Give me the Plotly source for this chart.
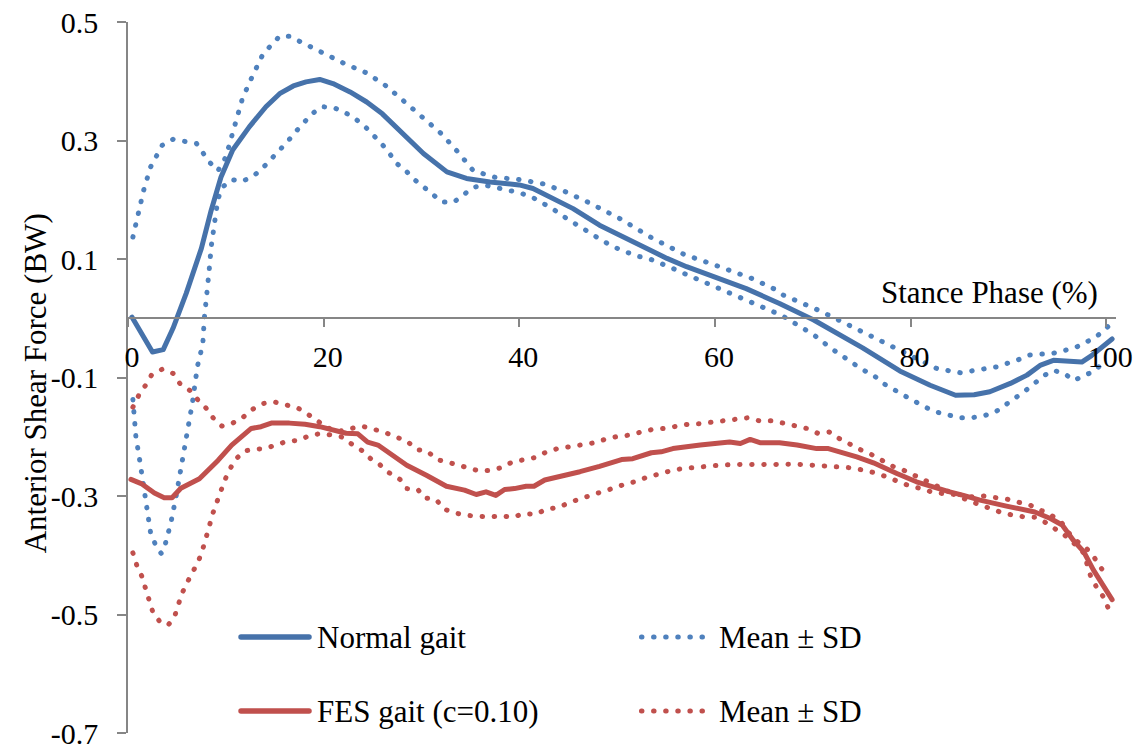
import plotly.graph_objects as go

# Normal gait: mean and mean ± SD (stance phase %, shear force in BW)
normal_x = [0.4, 2.5, 3.6, 4.6, 5.95, 7.5, 8.5, 9.5, 10.7, 12.4, 14.1, 15.5, 16.9, 18.2, 19.6,
            20.95, 22.7, 24.4, 26.0, 27.8, 30.2, 32.6, 34.6, 37.0, 40.0, 41.4, 43.5, 45.5, 48.2,
            51.6, 55.1, 57.1, 60.5, 63.2, 66.6, 70.1, 75.1, 78.9, 82.0, 84.6, 86.5, 88.1, 90.2,
            91.9, 93.3, 94.6, 97.5, 98.5, 100.6]
normal_y = [0.002, -0.057, -0.053, -0.017, 0.042, 0.118, 0.182, 0.238, 0.284, 0.323, 0.357, 0.379,
            0.392, 0.399, 0.403, 0.396, 0.382, 0.365, 0.345, 0.316, 0.278, 0.247, 0.236, 0.230,
            0.225, 0.219, 0.202, 0.185, 0.157, 0.129, 0.101, 0.087, 0.067, 0.050, 0.025, -0.003,
            -0.050, -0.089, -0.113, -0.130, -0.129, -0.124, -0.110, -0.096, -0.079, -0.071, -0.074,
            -0.063, -0.035]

normal_hi_x = [0.5, 1.0, 1.6, 2.3, 3.5, 4.6, 5.8, 7.0, 8.3, 9.2, 10.0, 10.7, 11.7, 12.7, 13.8, 15.5,
               16.5, 17.7, 19.9, 22.1, 24.4, 26.4, 28.3, 30.2, 32.0, 33.7, 35.3, 37.5, 40.0, 42.4,
               44.8, 47.0, 50.3, 53.5, 56.8, 60.3, 63.8, 66.0, 67.0, 70.6, 73.8, 77.2, 82.7, 85.1,
               87.4, 88.8, 91.0, 92.2, 94.6, 96.8, 98.7, 99.7, 100.3]
normal_hi_y = [0.137, 0.177, 0.216, 0.255, 0.292, 0.302, 0.299, 0.295, 0.264, 0.249, 0.272, 0.312,
               0.371, 0.408, 0.446, 0.476, 0.476, 0.466, 0.447, 0.430, 0.414, 0.392, 0.365, 0.337,
               0.312, 0.281, 0.249, 0.238, 0.234, 0.227, 0.213, 0.196, 0.168, 0.136, 0.108, 0.088,
               0.067, 0.050, 0.039, 0.0135, -0.012, -0.040, -0.085, -0.092, -0.087, -0.082, -0.070,
               -0.062, -0.059, -0.050, -0.034, -0.022, -0.012]

normal_lo_x = [0.5, 0.8, 1.2, 1.8, 2.3, 2.9, 3.4, 3.8, 4.4, 4.9, 5.3, 5.8, 6.1, 6.6, 7.1, 7.65, 7.8,
               8.1, 8.3, 8.5, 8.85, 9.2, 9.7, 10.6, 11.7, 12.9, 13.8, 14.7, 15.6, 16.35, 17.1, 17.95,
               18.8, 19.8, 20.95, 22.1, 23.2, 24.2, 25.0, 25.9, 26.7, 27.4, 28.4, 29.2, 30.2, 31.1,
               32.1, 33.3, 34.35, 35.3, 36.5, 37.7, 38.9, 40.05, 41.25, 42.3, 43.4, 44.4, 45.4, 46.5,
               47.55, 48.6, 49.7, 50.9, 52.0, 53.2, 54.4, 55.5, 56.65, 57.8, 58.9, 60.0, 61.2, 62.3,
               63.5, 64.6, 65.8, 66.8, 67.9, 69.0, 70.1, 71.9, 74.0, 75.1, 76.2, 77.2, 79.3, 80.4,
               81.5, 82.6, 83.8, 85.0, 86.2, 87.4, 88.6, 89.7, 90.6, 91.6, 92.6, 93.5, 94.6, 95.7,
               96.7, 97.9, 98.9, 99.7]
normal_lo_y = [-0.137, -0.199, -0.240, -0.300, -0.361, -0.386, -0.397, -0.382, -0.344, -0.302,
               -0.263, -0.223, -0.183, -0.141, -0.081, -0.043, 0.0, 0.041, 0.081, 0.120, 0.161,
               0.202, 0.222, 0.234, 0.231, 0.241, 0.254, 0.270, 0.284, 0.299, 0.314, 0.331, 0.345,
               0.357, 0.356, 0.348, 0.337, 0.324, 0.311, 0.295, 0.279, 0.262, 0.249, 0.235, 0.222,
               0.209, 0.196, 0.196, 0.208, 0.221, 0.2245, 0.221, 0.216, 0.2115, 0.205, 0.195, 0.185,
               0.173, 0.1625, 0.151, 0.141, 0.130, 0.120, 0.112, 0.105, 0.101, 0.094, 0.0855, 0.077,
               0.069, 0.060, 0.053, 0.044, 0.037, 0.030, 0.022, 0.0135, 0.005, -0.006, -0.016,
               -0.028, -0.051, -0.074, -0.087, -0.096, -0.110, -0.130, -0.141, -0.150, -0.158,
               -0.164, -0.168, -0.168, -0.165, -0.159, -0.147, -0.136, -0.124, -0.111, -0.098,
               -0.088, -0.093, -0.105, -0.096, -0.088, -0.074]

# FES gait (c=0.10): mean and mean ± SD
fes_x = [0.3, 1.35, 2.7, 3.7, 4.5, 5.4, 7.3, 9.2, 10.6, 12.6, 13.6, 14.65, 16.5, 18.1, 19.6, 20.95,
         22.3, 23.5, 24.5, 25.55, 26.75, 27.8, 28.5, 30.5, 32.55, 34.4, 35.6, 36.6, 37.6, 38.5, 39.5,
         40.7, 41.5, 42.6, 44.1, 46.2, 48.2, 50.45, 51.6, 53.5, 54.5, 55.7, 58.5, 61.5, 62.6, 63.6,
         64.6, 66.6, 68.4, 70.4, 71.6, 73.1, 74.5, 76.2, 77.4, 78.6, 80.6, 82.7, 84.0, 85.4, 87.1,
         89.8, 92.7, 94.3, 95.5, 96.65, 97.7, 98.7, 100.6]
fes_y = [-0.272, -0.279, -0.295, -0.303, -0.303, -0.287, -0.271, -0.240, -0.214, -0.186, -0.183,
         -0.177, -0.177, -0.179, -0.183, -0.188, -0.194, -0.195, -0.209, -0.214, -0.228, -0.238,
         -0.248, -0.265, -0.2835, -0.290, -0.2975, -0.293, -0.299, -0.289, -0.2875, -0.2835,
         -0.2835, -0.273, -0.268, -0.259, -0.250, -0.2385, -0.237, -0.227, -0.2255, -0.220, -0.214,
         -0.209, -0.2115, -0.2045, -0.210, -0.210, -0.214, -0.220, -0.220, -0.227, -0.234, -0.244,
         -0.254, -0.262, -0.276, -0.2875, -0.293, -0.299, -0.307, -0.317, -0.327, -0.338, -0.349,
         -0.375, -0.394, -0.425, -0.475]

fes_hi_x = [0.5, 1.1, 1.8, 2.4, 3.5, 4.6, 5.3, 6.3, 7.1, 8.0, 8.7, 9.6, 10.7, 11.7, 12.7, 13.8, 14.9,
            16.1, 17.3, 18.3, 19.3, 20.4, 21.5, 22.8, 23.9, 25.0, 26.2, 27.3, 28.5, 29.5, 30.6, 31.6,
            32.7, 33.85, 34.9, 36.0, 37.1, 38.2, 39.3, 40.5, 41.65, 42.8, 43.9, 45.1, 46.4, 47.55,
            48.75, 49.9, 51.1, 52.3, 53.5, 54.8, 56.0, 57.2, 58.4, 59.7, 60.9, 62.1, 63.35, 64.5,
            65.8, 67.0, 68.2, 69.4, 70.5, 71.7, 72.7, 73.8, 74.9, 76.0, 77.2, 78.2, 79.3, 80.5,
            81.55, 82.7, 83.8, 85.0, 86.3, 87.45, 88.7, 89.9, 92.3, 93.3, 94.4, 95.4, 96.1, 96.9,
            97.85, 98.7, 99.4, 100.1]
fes_hi_y = [-0.150, -0.130, -0.113, -0.096, -0.086, -0.093, -0.110, -0.1215, -0.137, -0.152,
            -0.168, -0.182, -0.177, -0.168, -0.154, -0.144, -0.141, -0.146, -0.151, -0.161, -0.173,
            -0.185, -0.191, -0.186, -0.182, -0.187, -0.192, -0.200, -0.207, -0.2215, -0.2245,
            -0.2385, -0.2425, -0.248, -0.2535, -0.258, -0.2565, -0.252, -0.2425, -0.2385, -0.235,
            -0.2255, -0.220, -0.217, -0.214, -0.2105, -0.2045, -0.200, -0.1975, -0.192, -0.188,
            -0.186, -0.182, -0.179, -0.178, -0.175, -0.172, -0.171, -0.168, -0.173, -0.173, -0.177,
            -0.182, -0.186, -0.194, -0.192, -0.203, -0.213, -0.222, -0.230, -0.240, -0.250,
            -0.2565, -0.266, -0.2745, -0.285, -0.292, -0.2975, -0.3015, -0.300, -0.3025, -0.3055,
            -0.316, -0.324, -0.3325, -0.344, -0.361, -0.375, -0.386, -0.402, -0.419, -0.437]

fes_lo_x = [0.5, 0.9, 1.4, 1.8, 2.1, 2.5, 3.2, 4.1, 4.75, 5.1, 5.5, 6.05, 6.6, 7.2, 7.6, 8.0, 8.3,
            8.6, 9.0, 9.4, 9.9, 10.4, 11.0, 11.9, 12.9, 14.0, 15.2, 16.3, 17.5, 18.6, 19.8, 21.8,
            22.8, 23.9, 24.8, 25.7, 26.7, 27.8, 28.5, 29.6, 30.3, 31.5, 32.3, 33.3, 34.5, 35.8,
            37.0, 38.2, 39.3, 40.5, 41.65, 42.8, 44.0, 45.1, 46.3, 47.45, 48.6, 49.8, 50.95, 52.1,
            53.25, 54.4, 55.6, 56.8, 58.05, 59.3, 60.5, 61.8, 63.0, 64.2, 65.4, 66.65, 67.9, 69.1,
            70.3, 71.6, 72.8, 74.0, 75.2, 76.4, 77.6, 78.7, 79.9, 81.1, 82.3, 83.4, 84.6, 85.8,
            86.9, 88.1, 89.3, 90.5, 91.7, 92.8, 94.0, 95.0, 96.0, 96.9, 97.7, 98.4, 99.0, 99.7,
            100.2]
fes_lo_y = [-0.396, -0.417, -0.435, -0.455, -0.475, -0.494, -0.511, -0.518, -0.504, -0.484, -0.465,
            -0.446, -0.428, -0.410, -0.392, -0.372, -0.352, -0.3325, -0.313, -0.293, -0.273,
            -0.255, -0.238, -0.224, -0.221, -0.220, -0.213, -0.2075, -0.206, -0.1975, -0.1945,
            -0.200, -0.2115, -0.223, -0.237, -0.2465, -0.261, -0.272, -0.2875, -0.2885, -0.303,
            -0.306, -0.322, -0.328, -0.3325, -0.334, -0.3355, -0.3335, -0.336, -0.3295, -0.331,
            -0.322, -0.3195, -0.311, -0.304, -0.2975, -0.292, -0.286, -0.279, -0.275, -0.2665,
            -0.263, -0.2565, -0.2535, -0.251, -0.249, -0.248, -0.247, -0.2465, -0.2465, -0.247,
            -0.2465, -0.2465, -0.247, -0.248, -0.251, -0.251, -0.2525, -0.2565, -0.261, -0.268,
            -0.2745, -0.283, -0.2875, -0.294, -0.296, -0.2975, -0.307, -0.314, -0.322, -0.328,
            -0.3325, -0.3355, -0.336, -0.3465, -0.358, -0.369, -0.383, -0.396, -0.435, -0.4535,
            -0.470, -0.489]

y_ticks = [-0.7, -0.5, -0.3, -0.1, 0.1, 0.3, 0.5]
y_tick_text = ["-0.7", "-0.5", "-0.3", "-0.1", "0.1", "0.3", "0.5"]
x_ticks = [0, 20, 40, 60, 80, 100]

BLUE = "#4672AA"
BLUE_LIGHT = "#4F81BD"
RED = "#C0504D"
AXIS = "#868686"
FONT = "Liberation Serif"
DOT = "0.5px,11.6px"

fig = go.Figure()
series = [
    (normal_hi_x, normal_hi_y, BLUE_LIGHT, DOT, 5),
    (normal_lo_x, normal_lo_y, BLUE_LIGHT, DOT, 5),
    (fes_hi_x, fes_hi_y, RED, DOT, 5),
    (fes_lo_x, fes_lo_y, RED, DOT, 5),
    (normal_x, normal_y, BLUE, "solid", 5),
    (fes_x, fes_y, RED, "solid", 5),
]
for xs, ys, color, dash, width in series:
    fig.add_trace(go.Scatter(x=xs, y=ys, mode="lines", showlegend=False, hoverinfo="skip",
                             line=dict(color=color, width=width, dash=dash)))

fig.update_layout(
    width=1145, height=751,
    margin=dict(l=128, r=29, t=22, b=18, autoexpand=False),
    paper_bgcolor="white", plot_bgcolor="white",
    font=dict(family=FONT, size=31, color="black"),
    showlegend=False,
    xaxis=dict(range=[0, 101], tickvals=x_ticks, ticks="outside", ticklen=8, tickwidth=1.5,
               tickcolor=AXIS, showline=True, linecolor=AXIS, linewidth=1.5, showgrid=False,
               zeroline=False, anchor="free", position=0.7 / 1.2, automargin=False,
               tickfont=dict(family=FONT, size=30, color="black"), ticklabelstandoff=4,
               ticklabelshift=4),
    yaxis=dict(range=[-0.7, 0.5], tickvals=y_ticks, ticktext=y_tick_text, ticks="outside",
               ticklen=9, tickwidth=1.5, tickcolor=AXIS, showline=True, linecolor=AXIS,
               linewidth=1.5, showgrid=False, zeroline=False, automargin=False,
               tickfont=dict(family=FONT, size=30, color="black"), ticklabelstandoff=13),
)

# Axis titles
fig.add_annotation(text="Stance Phase (%)", xref="paper", yref="paper", x=0.9838, y=0.620,
                   xanchor="right", yanchor="middle", showarrow=False,
                   font=dict(family=FONT, size=31, color="black"))
fig.add_annotation(text="Anterior Shear Force (BW)", xref="paper", yref="paper", x=-0.094,
                   y=0.492, xanchor="center", yanchor="middle", textangle=-90, showarrow=False,
                   font=dict(family=FONT, size=31, color="black"))

# Legend drawn inside the plot area
legend_rows = [
    (0.1350, BLUE, "Normal gait", BLUE_LIGHT),
    (0.0309, RED, "FES gait (c=0.10)", RED),
]
for ypos, solid_color, label, dot_color in legend_rows:
    fig.add_shape(type="line", xref="paper", yref="paper", x0=0.1144, x1=0.1832, y0=ypos, y1=ypos,
                  line=dict(color=solid_color, width=5.5))
    fig.add_shape(type="line", xref="paper", yref="paper", x0=0.5197, x1=0.5820, y0=ypos, y1=ypos,
                  line=dict(color=dot_color, width=5, dash=DOT))
    fig.add_annotation(text=label, xref="paper", yref="paper", x=0.1893, y=ypos, xanchor="left",
                       yanchor="middle", showarrow=False,
                       font=dict(family=FONT, size=31, color="black"))
    fig.add_annotation(text="Mean ± SD", xref="paper", yref="paper", x=0.5962, y=ypos,
                       xanchor="left", yanchor="middle", showarrow=False,
                       font=dict(family=FONT, size=31, color="black"))

# Round caps turn the short dashes into round dots
post = """
var gd = document.getElementById('{plot_id}');
function roundCaps() {
  gd.querySelectorAll('.scatterlayer path.js-line, .shapelayer path').forEach(function (p) {
    p.style.strokeLinecap = 'round';
    p.style.strokeLinejoin = 'round';
  });
}
roundCaps();
gd.on('plotly_afterplot', roundCaps);
"""

fig.write_html("out.html", post_script=post)
